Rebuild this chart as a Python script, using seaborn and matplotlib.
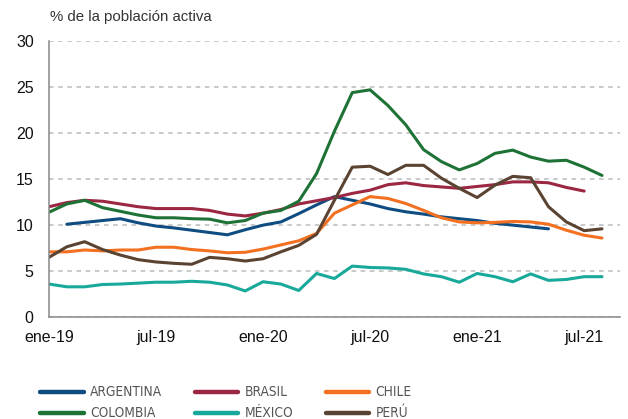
import numpy as np
import pandas as pd
import matplotlib
matplotlib.use("Agg")
import matplotlib.pyplot as plt
import seaborn as sns

# meses ene-19 ... ago-21 (indice 0..31)
meses = list(range(32))
tick_pos = [0, 6, 12, 18, 24, 30]
tick_labels = ["ene-19", "jul-19", "ene-20", "jul-20", "ene-21", "jul-21"]
nan = np.nan

argentina = [nan, 10.1, 10.3, 10.5, 10.7, 10.25, 9.9, 9.7, 9.45, 9.2, 8.95, 9.5,
             10.0, 10.35, 11.25, 12.2, 13.1, 12.7, 12.3, 11.8, 11.45, 11.2, 10.9, 10.7,
             10.5, 10.2, 10.0, 9.8, 9.6, nan, nan, nan]
brasil = [12.0, 12.45, 12.7, 12.6, 12.3, 12.0, 11.8, 11.8, 11.8, 11.6, 11.2, 11.0,
          11.3, 11.7, 12.3, 12.65, 13.0, 13.45, 13.8, 14.4, 14.6, 14.3, 14.15, 14.0,
          14.2, 14.4, 14.7, 14.7, 14.6, 14.1, 13.7, nan]
chile = [7.1, 7.1, 7.3, 7.2, 7.3, 7.3, 7.6, 7.6, 7.35, 7.2, 7.0, 7.05,
         7.4, 7.85, 8.3, 9.1, 11.3, 12.2, 13.1, 12.9, 12.35, 11.6, 10.8, 10.35,
         10.25, 10.3, 10.4, 10.35, 10.1, 9.45, 8.9, 8.6]
colombia = [11.4, 12.3, 12.7, 11.9, 11.5, 11.1, 10.8, 10.8, 10.7, 10.65, 10.25, 10.5,
            11.3, 11.6, 12.6, 15.6, 20.2, 24.4, 24.7, 23.0, 20.9, 18.2, 16.9, 16.0,
            16.7, 17.8, 18.15, 17.4, 16.95, 17.05, 16.3, 15.4]
mexico = [3.6, 3.3, 3.3, 3.55, 3.6, 3.7, 3.8, 3.8, 3.9, 3.8, 3.5, 2.85,
          3.85, 3.6, 2.9, 4.75, 4.2, 5.55, 5.4, 5.35, 5.2, 4.7, 4.4, 3.8,
          4.75, 4.4, 3.85, 4.7, 4.0, 4.1, 4.4, 4.4]
peru = [6.5, 7.65, 8.2, 7.35, 6.75, 6.25, 6.0, 5.85, 5.75, 6.5, 6.35, 6.1,
        6.35, 7.1, 7.8, 9.0, 12.7, 16.3, 16.4, 15.5, 16.5, 16.5, 15.1, 14.0,
        13.0, 14.35, 15.3, 15.15, 12.0, 10.35, 9.4, 9.6]

paises = ["ARGENTINA", "BRASIL", "CHILE", "COLOMBIA", "MÉXICO", "PERÚ"]
colores = ["#0f4c81", "#9b2743", "#f37021", "#1e7236", "#19a99a", "#5b4332"]

df = pd.DataFrame({"mes": meses, "ARGENTINA": argentina, "BRASIL": brasil,
                   "CHILE": chile, "COLOMBIA": colombia, "MÉXICO": mexico,
                   "PERÚ": peru})
df = df.melt(id_vars="mes", var_name="pais", value_name="tasa").dropna()

sns.set_style("white")
plt.rcParams["font.family"] = ["Liberation Sans", "DejaVu Sans"]

fig = plt.figure(figsize=(6.28, 4.19), dpi=100)
ax = fig.add_axes([0.078, 0.243, 0.909, 0.659])

sns.lineplot(data=df, x="mes", y="tasa", hue="pais", hue_order=paises,
             palette=colores, linewidth=2.2, estimator=None, ax=ax)

ax.set_xlim(0, 32)
ax.set_ylim(0, 30)
ax.set_yticks([0, 5, 10, 15, 20, 25, 30])
ax.set_xticks(tick_pos)
ax.set_xticklabels(tick_labels)
ax.set_xlabel("")
ax.set_ylabel("")
ax.tick_params(axis="y", length=0, pad=11, labelsize=11.5, colors="#111111")
ax.tick_params(axis="x", direction="in", length=4, width=1, color="#888888",
               pad=9, labelsize=11.5, labelcolor="#111111")

ax.grid(axis="y", color="#bbbbbb", linestyle=(0, (3, 3)), linewidth=1.1)
ax.set_axisbelow(True)
for s in ["top", "right"]:
    ax.spines[s].set_visible(False)
for s in ["left", "bottom"]:
    ax.spines[s].set_color("#888888")
    ax.spines[s].set_linewidth(1.1)

fig.text(0.08, 0.959, "% de la población activa", fontsize=10.8, color="#333333",
         va="center", ha="left")

handles, labels = ax.get_legend_handles_labels()
ax.get_legend().remove()
orden = [0, 3, 1, 4, 2, 5]
leg = fig.legend([handles[i] for i in orden], [labels[i] for i in orden],
                 loc="upper left", bbox_to_anchor=(0.064, 0.08), ncol=3,
                 frameon=False, borderpad=0, borderaxespad=0,
                 handlelength=3.2, handletextpad=0.45, columnspacing=2.4,
                 labelspacing=0.5,
                 prop={"family": "DejaVu Sans", "stretch": "condensed", "size": 9.8})
for t in leg.get_texts():
    t.set_color("#555555")
for l in leg.get_lines():
    l.set_linewidth(3.2)

fig.savefig("out.png", dpi=100)
